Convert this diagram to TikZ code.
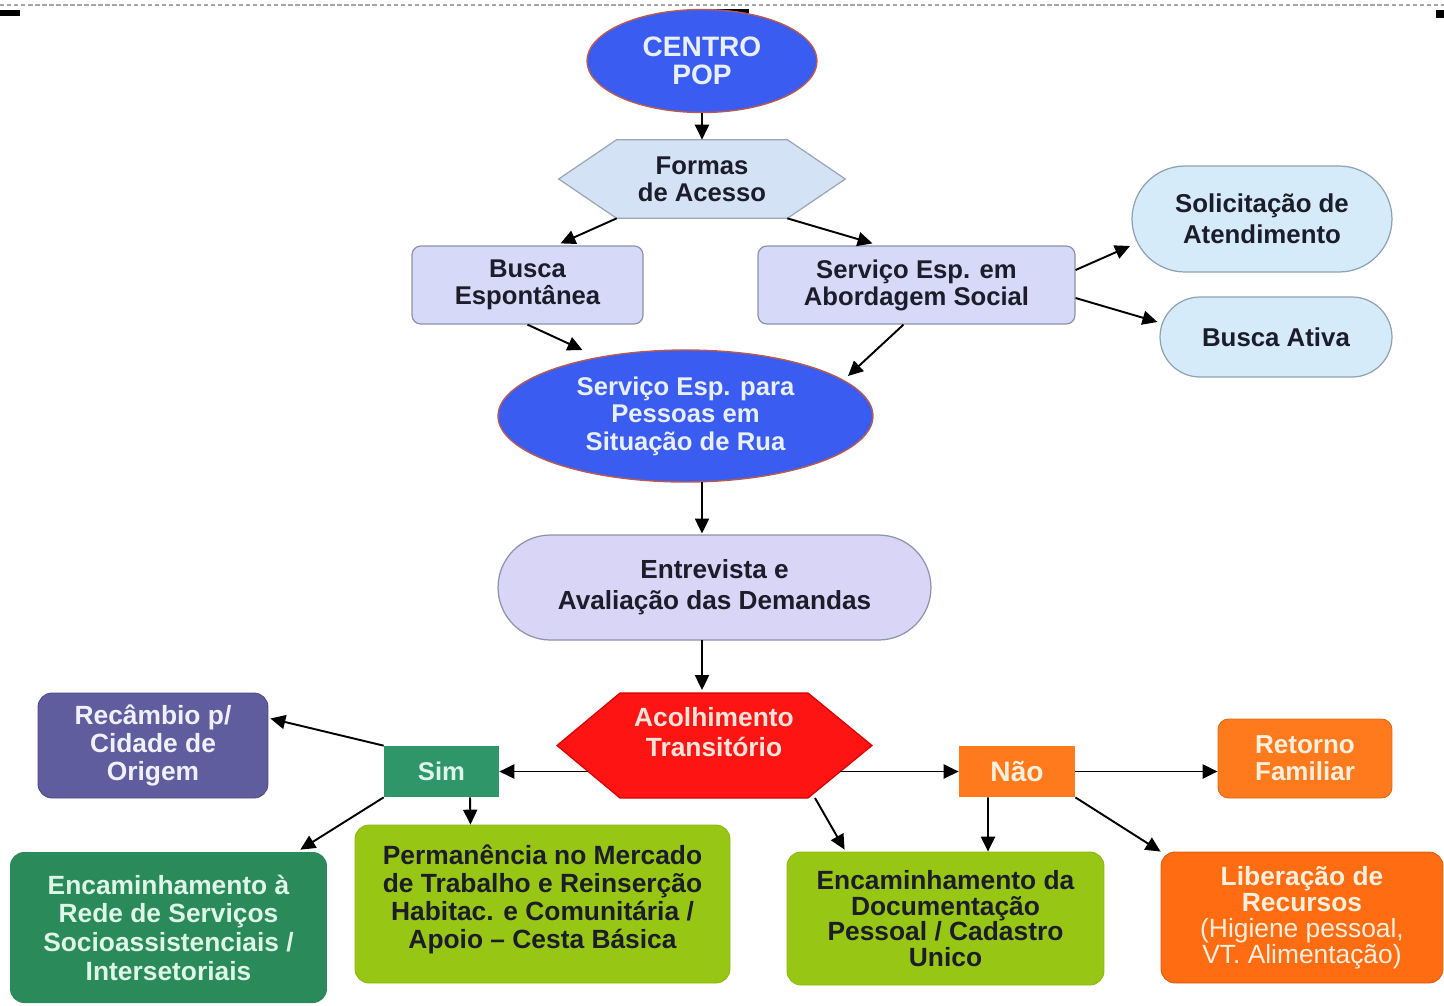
\documentclass[tikz,border=0pt]{standalone}
\usepackage{fontspec}
\setmainfont{Liberation Sans}
\usetikzlibrary{shapes.geometric,shapes.misc,arrows.meta,calc,backgrounds}
\definecolor{bluefill}{HTML}{3B5CF0}
\definecolor{blueedge}{HTML}{B85A50}
\definecolor{bluetext}{HTML}{E8F0FF}
\definecolor{hexblue}{HTML}{D3E2F5}
\definecolor{hexedge}{HTML}{98A6B6}
\definecolor{lav}{HTML}{D6DAF8}
\definecolor{lavedge}{HTML}{8E92AA}
\definecolor{skyfill}{HTML}{D6EBFA}
\definecolor{skyedge}{HTML}{8EA2B2}
\definecolor{lav2}{HTML}{D8D5F6}
\definecolor{redfill}{HTML}{FF1414}
\definecolor{rededge}{HTML}{D80000}
\definecolor{redtext}{HTML}{FFE4DC}
\definecolor{simgreen}{HTML}{2F966A}
\definecolor{regreen}{HTML}{2B8A5A}
\definecolor{greentext}{HTML}{DDF6E8}
\definecolor{purple}{HTML}{5F5D9E}
\definecolor{purpletext}{HTML}{F0F0FA}
\definecolor{lime}{HTML}{98C614}
\definecolor{limeedge}{HTML}{8AB80E}
\definecolor{orangeA}{HTML}{FF7A1C}
\definecolor{orangeB}{HTML}{FF6C12}
\definecolor{orangetext}{HTML}{FFF0DE}
\definecolor{darktext}{HTML}{1C1C2A}
\newcommand\fsz[2]{\fontsize{#1}{#2}\selectfont}
\tikzset{
  base/.style={inner sep=0pt, align=center},
  blueell/.style={base, ellipse, fill=bluefill, draw=blueedge, line width=0.8pt, text=bluetext},
  lavbox/.style={base, rectangle, rounded corners=5pt, fill=lav, draw=lavedge, line width=0.7pt, text=darktext, font=\bfseries\fsz{14.6}{15.3}},
  skybox/.style={base, rounded rectangle, fill=skyfill, draw=skyedge, line width=0.7pt, text=darktext, font=\bfseries\fsz{14.7}{17.6}},
  colbox/.style={base, rectangle, rounded corners=8pt, font=\bfseries\fsz{15}{15.9}},
  conn/.style={line width=1.1pt, draw=black, -{Triangle[length=8.5pt,width=8pt]}}
}
\begin{document}
\begin{tikzpicture}[x=0.02cm,y=-0.02cm]
\useasboundingbox (0,0) rectangle (1444,1005);
% top marks
\draw[gray!70, line width=0.6pt, dash pattern=on 2.5pt off 1.5pt] (0,5) -- (1444,5);
\fill[black] (0,10) rectangle (20,16);
\filldraw[fill=black, draw=white, line width=0.5pt] (709,8) rectangle (749,16);
\fill[black] (1436,10) rectangle (1444,18);

% nodes
\node[blueell, minimum width=4.6cm, minimum height=2.06cm, font=\bfseries\fsz{16}{16}] (cp) at (702,61) {CENTRO\\POP};
\node[base, minimum width=3.4cm, minimum height=1.56cm, text=darktext, font=\bfseries\fsz{14.6}{15.3}] (fa) at (702,179) {Formas\\de Acesso};
\node[lavbox, minimum width=4.62cm, minimum height=1.56cm] (bs) at (527.5,285) {Busca\\Espontânea};
\node[lavbox, minimum width=6.34cm, minimum height=1.56cm] (sa) at (916.5,285) {Serviço Esp. em\\Abordagem Social};
\node[skybox, minimum width=5.2cm, minimum height=2.12cm] (sol) at (1262,219) {Solicitação de\\Atendimento};
\node[skybox, minimum width=4.64cm, minimum height=1.6cm] (ba) at (1276,337) {Busca Ativa};
\node[blueell, minimum width=7.5cm, minimum height=2.64cm, font=\bfseries\fsz{14.6}{15.6}] (sp) at (685.5,416) {Serviço Esp. para\\Pessoas em\\Situação de Rua};
\node[base, rounded rectangle, fill=lav2, draw=lavedge, line width=0.7pt, text=darktext, minimum width=8.66cm, minimum height=2.1cm, font=\bfseries\fsz{14.9}{17.6}] (ev) at (714.5,587.5) {Entrevista e\\Avaliação das Demandas};
\node[base, text=redtext, font=\bfseries\fsz{15}{17}] (ac) at (714,732) {Acolhimento\\Transitório};
\node[colbox, fill=simgreen, text=greentext, minimum width=2.3cm, minimum height=1.02cm, rounded corners=0pt, font=\bfseries\fsz{14.6}{15}] (sim) at (441.5,771.5) {Sim};
\node[colbox, fill=orangeA, text=orangetext, minimum width=2.32cm, minimum height=1.02cm, rounded corners=0pt, font=\bfseries\fsz{16}{16}] (nao) at (1017,771.5) {Não};
\node[colbox, fill=purple, draw=purple!80!black, line width=0.5pt, text=purpletext, minimum width=4.6cm, minimum height=2.1cm] (rec) at (153,745.5) {Recâmbio p/\\Cidade de\\Origem};
\node[colbox, fill=regreen, text=greentext, minimum width=6.34cm, minimum height=3.02cm, font=\bfseries\fsz{15}{16.3}] (er) at (168.5,927.5) {Encaminhamento à\\Rede de Serviços\\Socioassistenciais /\\Intersetoriais};
\node[colbox, fill=lime, draw=limeedge, line width=0.5pt, text=darktext, minimum width=7.5cm, minimum height=3.16cm, font=\bfseries\fsz{15}{16}] (pm) at (542.5,904) {Permanência no Mercado\\de Trabalho e Reinserção\\Habitac. e Comunitária /\\Apoio -- Cesta Básica\\[-8pt]};
\node[colbox, fill=lime, draw=limeedge, line width=0.5pt, text=darktext, minimum width=6.34cm, minimum height=2.66cm, font=\bfseries\fsz{15}{14.7}] (ed) at (945.5,918.5) {Encaminhamento da\\Documentação\\Pessoal / Cadastro\\Unico};
\node[colbox, fill=orangeA, draw=orangeA!85!black, line width=0.5pt, text=orangetext, minimum width=3.48cm, minimum height=1.58cm, rounded corners=6pt, font=\bfseries\fsz{14.8}{15.3}] (ret) at (1305,758.5) {Retorno\\Familiar};
\node[colbox, fill=orangeB, draw=orangeB!85!black, line width=0.5pt, text=orangetext, minimum width=5.64cm, minimum height=2.62cm, font=\bfseries\fsz{15}{14.7}] (lib) at (1302,917.5) {Liberação de\\Recursos\\{\mdseries (Higiene pessoal,}\\{\mdseries VT. Alimentação)}};

% hexagons on background
\begin{scope}[on background layer]
\draw[fill=hexblue, draw=hexedge, line width=0.7pt]
  (fa.north west) -- (fa.north east) -- ($(fa.east)+(58,0)$) -- (fa.south east)
  -- (fa.south west) -- ($(fa.west)+(-58,0)$) -- cycle;
\draw[fill=redfill, draw=rededge, line width=0.7pt]
  ($(ac.center)+(-94,-39)$) -- ($(ac.center)+(94,-39)$) -- ($(ac.center)+(158,13.5)$)
  -- ($(ac.center)+(94,66)$) -- ($(ac.center)+(-94,66)$) -- ($(ac.center)+(-157,13.5)$) -- cycle;
\end{scope}

% connectors
\draw[conn] (cp.south) -- (fa.north);
\draw[conn] (fa.south west) -- ($(bs.north)+(33,-2)$);
\draw[conn] (fa.south east) -- ($(sa.north)+(-44,-2)$);
\draw[conn] ($(sa.east)+(0,-15)$) -- ($(sol.center)+(-132,27)$);
\draw[conn] ($(sa.east)+(0,13)$) -- ($(ba.west)+(-2,-15)$);
\draw[conn] (bs.south) -- ($(sp.center)+(-103,-66)$);
\draw[conn] ($(sa.south)+(-13,0)$) -- ($(sp.center)+(162.5,-40)$);
\draw[conn] ($(sp.center)+(16.5,66)$) -- ($(ev.center)+(-12.5,-54)$);
\draw[conn] ($(ev.center)+(-12.5,52.5)$) -- ($(ac.center)+(-12,-42)$);
\draw[conn] ($(ac.center)+(-126,39.5)$) -- (sim.east);
\draw[conn] ($(ac.center)+(126,39.5)$) -- (nao.west);
\draw[conn] ($(ac.center)+(101,66)$) -- ($(ed.north west)+(58,-2)$);
\draw[conn] (sim.north west) -- ($(rec.east)+(2,-27)$);
\draw[conn] (sim.south west) -- ($(er.north east)+(-27,-2)$);
\draw[conn] ($(sim.south)+(28.5,0)$) -- ($(pm.north)+(-72,0)$);
\draw[conn] ($(nao.south)+(-29,0)$) -- ($(ed.north)+(42.5,0)$);
\draw[conn] (nao.east) -- (nao.east -| ret.west);
\draw[conn] (nao.south east) -- (lib.north west);
\end{tikzpicture}
\end{document}
